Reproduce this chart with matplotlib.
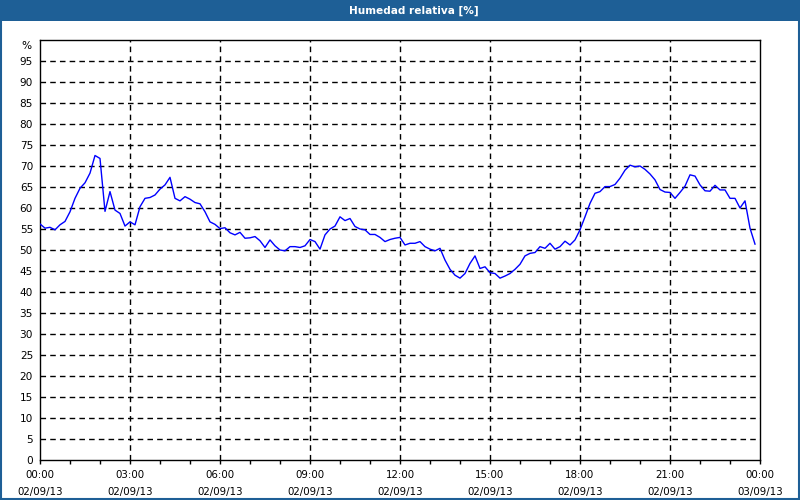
import matplotlib
matplotlib.use("Agg")
import matplotlib.pyplot as plt
from matplotlib.patches import Rectangle
import numpy as np

title = "Humedad relativa [%]"
# relative humidity, 10-minute samples from 00:00 to 23:50
humidity = [
    56.2, 55.2, 55.4, 54.8, 56.0, 56.8, 59.1, 62.3, 64.7, 66.0,
    68.3, 72.5, 71.8, 59.2, 63.9, 59.5, 58.7, 55.7, 56.7, 56.0,
    60.3, 62.3, 62.5, 63.1, 64.5, 65.5, 67.3, 62.3, 61.7, 62.7,
    62.1, 61.3, 61.0, 59.1, 56.7, 56.1, 55.1, 55.3, 54.1, 53.6,
    54.2, 52.8, 52.9, 53.2, 52.2, 50.6, 52.4, 51.0, 50.0, 49.8,
    50.8, 50.8, 50.6, 51.0, 52.5, 52.0, 50.2, 53.6, 55.0, 55.7,
    57.9, 57.0, 57.5, 55.6, 55.0, 54.8, 53.7, 53.7, 53.0, 52.0,
    52.5, 52.8, 53.0, 51.2, 51.6, 51.6, 52.0, 50.8, 50.2, 49.8,
    50.4, 47.6, 45.4, 44.0, 43.3, 44.4, 46.8, 48.6, 45.6, 46.0,
    44.6, 44.4, 43.3, 43.8, 44.4, 45.4, 46.6, 48.6, 49.2, 49.4,
    50.8, 50.4, 51.6, 50.2, 50.8, 52.1, 51.2, 52.4, 54.8, 57.9,
    61.1, 63.5, 63.9, 65.1, 65.1, 65.6, 67.1, 69.0, 70.2, 69.8,
    70.0, 69.2, 68.1, 66.7, 64.4, 63.8, 63.7, 62.3, 63.7, 65.2,
    67.9, 67.6, 65.5, 64.1, 64.0, 65.4, 64.3, 64.3, 62.3, 62.3,
    60.0, 61.7, 55.2, 51.4,
]
step_minutes = 10
tick_hours = [0, 3, 6, 9, 12, 15, 18, 21, 24]
tick_labels = ["00:00\n02/09/13", "03:00\n02/09/13", "06:00\n02/09/13",
               "09:00\n02/09/13", "12:00\n02/09/13", "15:00\n02/09/13",
               "18:00\n02/09/13", "21:00\n02/09/13", "00:00\n03/09/13"]
y_ticks = list(range(0, 100, 5))

hours = np.arange(len(humidity)) * step_minutes / 60.0

fig = plt.figure(figsize=(8, 5), dpi=100)
fig.patch.set_facecolor("white")

# title bar and frame
blue = "#1E5F96"
fig.patches.append(Rectangle((0, 1 - 21 / 500), 1, 21 / 500, transform=fig.transFigure,
                             facecolor=blue, edgecolor="none", zorder=0))
fig.patches.append(Rectangle((0.001, 0.002), 0.998, 0.996, transform=fig.transFigure,
                             facecolor="none", edgecolor=blue, linewidth=1.5, zorder=5))
fig.text(414 / 800, 1 - 10.5 / 500, title, color="white", fontsize=7.6, fontweight="bold",
         ha="center", va="center", family="DejaVu Sans")

ax = fig.add_axes([40 / 800, 40 / 500, 720 / 800, 420 / 500])
ax.plot(hours, humidity, color="#0000FF", lw=1.0, zorder=3)

ax.set_xlim(0, 24)
ax.set_ylim(0, 100)

ax.set_xticks(tick_hours)
ax.set_xticklabels(tick_labels, fontsize=7.4)
for lbl in ax.get_xticklabels():
    lbl.set_linespacing(1.85)
ax.set_xticks(np.arange(0, 25, 1), minor=True)
ax.tick_params(axis="x", which="both", length=3, width=1, direction="out", pad=4, color="black")
ax.set_yticks(y_ticks)
ax.set_yticklabels([str(v) for v in y_ticks], fontsize=7.6)
ax.tick_params(axis="y", length=0, pad=5)

ax.text(-0.012, 98.6, "%", transform=ax.get_yaxis_transform(), ha="right", va="center", fontsize=7.6)

for h in tick_hours[1:-1]:
    ax.axvline(h, color="black", lw=1, linestyle=(0, (4, 3)), zorder=1)
for v in y_ticks[1:]:
    ax.axhline(v, color="black", lw=1, linestyle=(0, (4, 3)), zorder=1)

for s in ax.spines.values():
    s.set_color("black")
    s.set_linewidth(1)

fig.savefig("out.png", dpi=100)
